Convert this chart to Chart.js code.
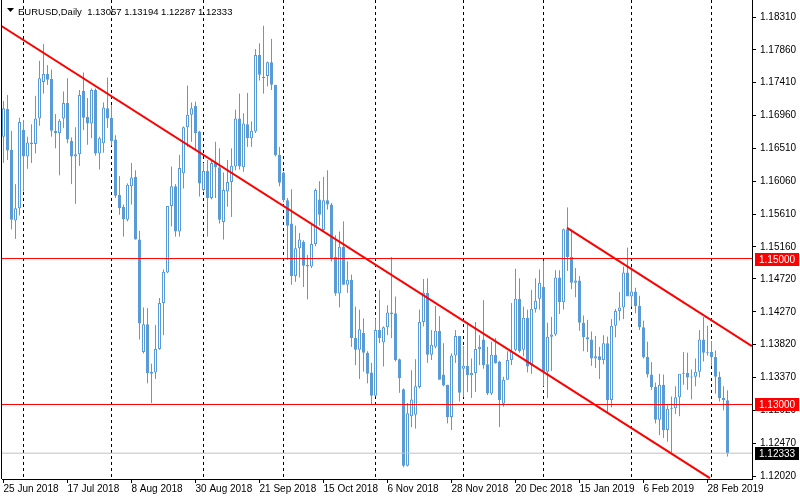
<!DOCTYPE html>
<html>
<head>
<meta charset="utf-8">
<title>EURUSD Daily</title>
<script src="https://cdn.jsdelivr.net/npm/chart.js@4.4.0/dist/chart.umd.min.js"></script>
<style>
  html, body { margin: 0; padding: 0; background: #fff; }
  #wrap { width: 800px; height: 500px; }
</style>
</head>
<body>
<div id="wrap"><canvas id="chart" width="800" height="500"></canvas></div>
<script>
// EURUSD daily bars, 25 Jun 2018 - 7 Mar 2019
const dates = [
  "2018.06.25", "2018.06.26", "2018.06.27", "2018.06.28", "2018.06.29",
  "2018.07.02", "2018.07.03", "2018.07.04", "2018.07.05", "2018.07.06",
  "2018.07.09", "2018.07.10", "2018.07.11", "2018.07.12", "2018.07.13",
  "2018.07.16", "2018.07.17", "2018.07.18", "2018.07.19", "2018.07.20",
  "2018.07.23", "2018.07.24", "2018.07.25", "2018.07.26", "2018.07.27",
  "2018.07.30", "2018.07.31", "2018.08.01", "2018.08.02", "2018.08.03",
  "2018.08.06", "2018.08.07", "2018.08.08", "2018.08.09", "2018.08.10",
  "2018.08.13", "2018.08.14", "2018.08.15", "2018.08.16", "2018.08.17",
  "2018.08.20", "2018.08.21", "2018.08.22", "2018.08.23", "2018.08.24",
  "2018.08.27", "2018.08.28", "2018.08.29", "2018.08.30", "2018.08.31",
  "2018.09.03", "2018.09.04", "2018.09.05", "2018.09.06", "2018.09.07",
  "2018.09.10", "2018.09.11", "2018.09.12", "2018.09.13", "2018.09.14",
  "2018.09.17", "2018.09.18", "2018.09.19", "2018.09.20", "2018.09.21",
  "2018.09.24", "2018.09.25", "2018.09.26", "2018.09.27", "2018.09.28",
  "2018.10.01", "2018.10.02", "2018.10.03", "2018.10.04", "2018.10.05",
  "2018.10.08", "2018.10.09", "2018.10.10", "2018.10.11", "2018.10.12",
  "2018.10.15", "2018.10.16", "2018.10.17", "2018.10.18", "2018.10.19",
  "2018.10.22", "2018.10.23", "2018.10.24", "2018.10.25", "2018.10.26",
  "2018.10.29", "2018.10.30", "2018.10.31", "2018.11.01", "2018.11.02",
  "2018.11.05", "2018.11.06", "2018.11.07", "2018.11.08", "2018.11.09",
  "2018.11.12", "2018.11.13", "2018.11.14", "2018.11.15", "2018.11.16",
  "2018.11.19", "2018.11.20", "2018.11.21", "2018.11.22", "2018.11.23",
  "2018.11.26", "2018.11.27", "2018.11.28", "2018.11.29", "2018.11.30",
  "2018.12.03", "2018.12.04", "2018.12.05", "2018.12.06", "2018.12.07",
  "2018.12.10", "2018.12.11", "2018.12.12", "2018.12.13", "2018.12.14",
  "2018.12.17", "2018.12.18", "2018.12.19", "2018.12.20", "2018.12.21",
  "2018.12.24", "2018.12.26", "2018.12.27", "2018.12.28", "2018.12.31",
  "2019.01.02", "2019.01.03", "2019.01.04", "2019.01.07", "2019.01.08",
  "2019.01.09", "2019.01.10", "2019.01.11", "2019.01.14", "2019.01.15",
  "2019.01.16", "2019.01.17", "2019.01.18", "2019.01.21", "2019.01.22",
  "2019.01.23", "2019.01.24", "2019.01.25", "2019.01.28", "2019.01.29",
  "2019.01.30", "2019.01.31", "2019.02.01", "2019.02.04", "2019.02.05",
  "2019.02.06", "2019.02.07", "2019.02.08", "2019.02.11", "2019.02.12",
  "2019.02.13", "2019.02.14", "2019.02.15", "2019.02.18", "2019.02.19",
  "2019.02.20", "2019.02.21", "2019.02.22", "2019.02.25", "2019.02.26",
  "2019.02.27", "2019.02.28", "2019.03.01", "2019.03.04", "2019.03.05",
  "2019.03.06", "2019.03.07",
]

const opens = [
  1.1667, 1.1705, 1.1649, 1.1552, 1.1569, 1.1676, 1.1640, 1.1659, 1.1657, 1.1692,
  1.1742, 1.1753, 1.1746, 1.1675, 1.1672, 1.1692, 1.1713, 1.1661, 1.1640, 1.1643,
  1.1730, 1.1694, 1.1685, 1.1731, 1.1644, 1.1658, 1.1706, 1.1693, 1.1663, 1.1587,
  1.1571, 1.1553, 1.1599, 1.1612, 1.1526, 1.1372, 1.1410, 1.1342, 1.1344, 1.1376,
  1.1439, 1.1481, 1.1572, 1.1599, 1.1537, 1.1617, 1.1680, 1.1697, 1.1709, 1.1674,
  1.1594, 1.1620, 1.1583, 1.1631, 1.1625, 1.1550, 1.1592, 1.1605, 1.1626, 1.1692,
  1.1625, 1.1684, 1.1665, 1.1674, 1.1779, 1.1747, 1.1750, 1.1769, 1.1738, 1.1642,
  1.1618, 1.1580, 1.1548, 1.1476, 1.1514, 1.1523, 1.1491, 1.1489, 1.1520, 1.1581,
  1.1539, 1.1580, 1.1574, 1.1502, 1.1452, 1.1516, 1.1464, 1.1471, 1.1391, 1.1375,
  1.1398, 1.1371, 1.1344, 1.1312, 1.1402, 1.1385, 1.1406, 1.1424, 1.1425, 1.1362,
  1.1321, 1.1216, 1.1284, 1.1286, 1.1324, 1.1413, 1.1453, 1.1368, 1.1379, 1.1401,
  1.1341, 1.1327, 1.1283, 1.1367, 1.1394, 1.1349, 1.1353, 1.1340, 1.1343, 1.1376,
  1.1389, 1.1355, 1.1315, 1.1368, 1.1359, 1.1301, 1.1334, 1.1361, 1.1375, 1.1445,
  1.1375, 1.1419, 1.1354, 1.1431, 1.1445, 1.1461, 1.1345, 1.1393, 1.1396, 1.1474,
  1.1440, 1.1540, 1.1502, 1.1467, 1.1470, 1.1412, 1.1392, 1.1389, 1.1363, 1.1366,
  1.1361, 1.1384, 1.1306, 1.1408, 1.1428, 1.1433, 1.1481, 1.1448, 1.1455, 1.1435,
  1.1406, 1.1365, 1.1341, 1.1324, 1.1279, 1.1327, 1.1265, 1.1294, 1.1295, 1.1310,
  1.1342, 1.1343, 1.1337, 1.1338, 1.1345, 1.1389, 1.1371, 1.1372, 1.1365, 1.1338,
  1.1309, 1.13057,
]

const highs = [
  1.1716, 1.1724, 1.1675, 1.1602, 1.1693, 1.1690, 1.1667, 1.1684, 1.1723, 1.1771,
  1.1794, 1.1765, 1.1759, 1.1698, 1.1691, 1.1729, 1.1747, 1.1666, 1.1680, 1.1731,
  1.1755, 1.1720, 1.1733, 1.1733, 1.1667, 1.1714, 1.1748, 1.1710, 1.1669, 1.1613,
  1.1574, 1.1603, 1.1631, 1.1621, 1.1538, 1.1433, 1.1432, 1.1356, 1.1409, 1.1446,
  1.1485, 1.1572, 1.1626, 1.1602, 1.1642, 1.1681, 1.1737, 1.1714, 1.1715, 1.1675,
  1.1631, 1.1635, 1.1635, 1.1660, 1.1651, 1.1618, 1.1635, 1.1651, 1.1704, 1.1726,
  1.1699, 1.1727, 1.1688, 1.1787, 1.1795, 1.1819, 1.1770, 1.1801, 1.1738, 1.1653,
  1.1619, 1.1583, 1.1595, 1.1545, 1.1535, 1.1525, 1.1505, 1.1546, 1.1596, 1.1606,
  1.1612, 1.1621, 1.1576, 1.1532, 1.1537, 1.1551, 1.1496, 1.1478, 1.1434, 1.1430,
  1.1418, 1.1373, 1.1357, 1.1418, 1.1457, 1.1407, 1.1436, 1.1502, 1.1448, 1.1363,
  1.1322, 1.1302, 1.1347, 1.1362, 1.1430, 1.1472, 1.1473, 1.1402, 1.1435, 1.1421,
  1.1384, 1.1327, 1.1370, 1.1402, 1.1394, 1.1380, 1.1413, 1.1363, 1.1413, 1.1395,
  1.1443, 1.1379, 1.1386, 1.1391, 1.1360, 1.1338, 1.1373, 1.1439, 1.1486, 1.1473,
  1.1434, 1.1430, 1.1457, 1.1473, 1.1485, 1.1497, 1.1412, 1.1420, 1.1484, 1.1484,
  1.1541, 1.1570, 1.1540, 1.1487, 1.1476, 1.1422, 1.1416, 1.1400, 1.1394, 1.1379,
  1.1395, 1.1393, 1.1417, 1.1431, 1.1454, 1.1489, 1.1515, 1.1488, 1.1460, 1.1449,
  1.1415, 1.1386, 1.1358, 1.1330, 1.1342, 1.1341, 1.1299, 1.1311, 1.1325, 1.1341,
  1.1372, 1.1371, 1.1348, 1.1363, 1.1402, 1.1420, 1.1408, 1.1387, 1.1374, 1.1345,
  1.1325, 1.13194,
]

const lows = [
  1.1631, 1.1635, 1.1540, 1.1527, 1.1559, 1.1592, 1.1623, 1.1631, 1.1644, 1.1682,
  1.1726, 1.1738, 1.1667, 1.1651, 1.1614, 1.1679, 1.1658, 1.1602, 1.1575, 1.1627,
  1.1676, 1.1656, 1.1665, 1.1641, 1.1622, 1.1645, 1.1679, 1.1655, 1.1583, 1.1560,
  1.1530, 1.1551, 1.1574, 1.1526, 1.1389, 1.1370, 1.1329, 1.1302, 1.1335, 1.1375,
  1.1395, 1.1480, 1.1544, 1.1530, 1.1530, 1.1596, 1.1653, 1.1660, 1.1649, 1.1585,
  1.1592, 1.1530, 1.1581, 1.1583, 1.1548, 1.1526, 1.1571, 1.1557, 1.1621, 1.1622,
  1.1619, 1.1653, 1.1653, 1.1672, 1.1744, 1.1726, 1.1736, 1.1731, 1.1640, 1.1599,
  1.1577, 1.1498, 1.1464, 1.1468, 1.1474, 1.1461, 1.1444, 1.1487, 1.1517, 1.1545,
  1.1537, 1.1567, 1.1496, 1.1449, 1.1433, 1.1464, 1.1453, 1.1379, 1.1354, 1.1335,
  1.1345, 1.1329, 1.1300, 1.1311, 1.1384, 1.1352, 1.1395, 1.1391, 1.1359, 1.1316,
  1.1214, 1.1215, 1.1269, 1.1267, 1.1322, 1.1407, 1.1357, 1.1361, 1.1377, 1.1334,
  1.1325, 1.1274, 1.1265, 1.1357, 1.1304, 1.1310, 1.1317, 1.1309, 1.1317, 1.1354,
  1.1349, 1.1313, 1.1313, 1.1356, 1.1269, 1.1297, 1.1334, 1.1354, 1.1373, 1.1371,
  1.1366, 1.1344, 1.1342, 1.1426, 1.1430, 1.1325, 1.1309, 1.1346, 1.1394, 1.1424,
  1.1430, 1.1483, 1.1458, 1.1447, 1.1401, 1.1373, 1.1372, 1.1353, 1.1350, 1.1335,
  1.1355, 1.1289, 1.1296, 1.1392, 1.1415, 1.1417, 1.1449, 1.1434, 1.1425, 1.1402,
  1.1363, 1.1337, 1.1320, 1.1274, 1.1258, 1.1254, 1.1249, 1.1234, 1.1287, 1.1284,
  1.1327, 1.1320, 1.1307, 1.1325, 1.1337, 1.1359, 1.1367, 1.1353, 1.1315, 1.1304,
  1.1292, 1.12287,
]

const closes = [
  1.1706, 1.1648, 1.1553, 1.1569, 1.1687, 1.1640, 1.1659, 1.1657, 1.1692, 1.1747,
  1.1753, 1.1745, 1.1675, 1.1672, 1.1689, 1.1713, 1.1663, 1.1640, 1.1643, 1.1724,
  1.1693, 1.1685, 1.1731, 1.1644, 1.1665, 1.1707, 1.1692, 1.1661, 1.1586, 1.1569,
  1.1554, 1.1601, 1.1611, 1.1526, 1.1411, 1.1410, 1.1343, 1.1345, 1.1376, 1.1439,
  1.1482, 1.1572, 1.1599, 1.1537, 1.1624, 1.1680, 1.1697, 1.1706, 1.1672, 1.1603,
  1.1620, 1.1583, 1.1631, 1.1625, 1.1553, 1.1594, 1.1605, 1.1627, 1.1692, 1.1626,
  1.1685, 1.1665, 1.1675, 1.1779, 1.1752, 1.1749, 1.1769, 1.1738, 1.1642, 1.1604,
  1.1580, 1.1545, 1.1476, 1.1514, 1.1526, 1.1490, 1.1489, 1.1520, 1.1594, 1.1560,
  1.1580, 1.1574, 1.1500, 1.1452, 1.1516, 1.1464, 1.1471, 1.1391, 1.1375, 1.1403,
  1.1371, 1.1342, 1.1312, 1.1402, 1.1391, 1.1406, 1.1426, 1.1426, 1.1361, 1.1336,
  1.1216, 1.1288, 1.1307, 1.1325, 1.1413, 1.1453, 1.1368, 1.1382, 1.1401, 1.1334,
  1.1326, 1.1283, 1.1367, 1.1394, 1.1316, 1.1353, 1.1340, 1.1343, 1.1376, 1.1379,
  1.1354, 1.1315, 1.1368, 1.1357, 1.1306, 1.1334, 1.1361, 1.1373, 1.1445, 1.1373,
  1.1419, 1.1352, 1.1431, 1.1442, 1.1467, 1.1345, 1.1393, 1.1396, 1.1474, 1.1440,
  1.1540, 1.1502, 1.1467, 1.1470, 1.1412, 1.1392, 1.1389, 1.1363, 1.1366, 1.1361,
  1.1384, 1.1306, 1.1408, 1.1428, 1.1433, 1.1481, 1.1448, 1.1455, 1.1435, 1.1406,
  1.1365, 1.1341, 1.1324, 1.1279, 1.1327, 1.1265, 1.1294, 1.1295, 1.1310, 1.1342,
  1.1343, 1.1337, 1.1338, 1.1345, 1.1389, 1.1371, 1.1372, 1.1365, 1.1338, 1.1309,
  1.1306, 1.12333,
]

// Axis ticks (bar index -> label) and price scale labels
const xTickIdx = [0, 16, 32, 48, 64, 80, 96, 112, 128, 144, 160, 176]
const xTickLabels = [
  "25 Jun 2018", "17 Jul 2018", "8 Aug 2018", "30 Aug 2018", "21 Sep 2018", "15 Oct 2018",
  "6 Nov 2018", "28 Nov 2018", "20 Dec 2018", "15 Jan 2019", "6 Feb 2019", "28 Feb 2019",
]
const monthStartIdx = [5, 27, 50, 70, 93, 115, 135, 157, 177]
const yTicks = [
  1.1831, 1.1786, 1.1741, 1.1696, 1.1651, 1.1606, 1.1561, 1.1516,
  1.1472, 1.1427, 1.1382, 1.1337, 1.1292, 1.1247, 1.1202,
]

// Trend lines (bar index, price) and horizontal levels
const trendX1 = [-0.9, 176.6]
const trendY1 = [1.182, 1.1199]
const trendX2 = [140.9, 187.1]
const trendY2 = [1.1542, 1.138]
const levels = [1.15, 1.13]
const bidLevel = 1.12333

const BLUE = "#5b9bd5"
const RED = "#ff0000"
const FONT = { family: "'Liberation Sans', Arial, sans-serif", size: 10 }
const X_MIN = -0.375
const X_MAX = 187.125

const idx = closes.map((c, i) => i)
const bull = closes.map((c, i) => c >= opens[i])

function segment(xs, ys) {
  return xs.map((x, i) => ({ x: x, y: ys[i] }))
}

function lineSet(data, color, width) {
  return {
    type: "line",
    data: data,
    borderColor: color,
    borderWidth: width,
    pointRadius: 0,
    tension: 0,
    fill: false,
  }
}

// Month grid, frame, price boxes and header
const mt4Decor = {
  id: "mt4Decor",
  beforeDatasetsDraw(chart) {
    const { ctx, chartArea: a, scales } = chart
    ctx.save()
    ctx.strokeStyle = "#000"
    ctx.lineWidth = 1
    ctx.setLineDash([3, 3])
    monthStartIdx.forEach((k) => {
      const px = scales.x.getPixelForValue(k)
      ctx.beginPath()
      ctx.moveTo(px, a.top)
      ctx.lineTo(px, a.bottom)
      ctx.stroke()
    })
    ctx.setLineDash([])
    ctx.beginPath()
    ctx.moveTo(a.left - 0.5, a.top)
    ctx.lineTo(a.left - 0.5, a.bottom)
    ctx.stroke()
    ctx.restore()
  },
  afterDraw(chart) {
    const { ctx, chartArea: a, scales } = chart
    ctx.save()
    ctx.font = "10px " + FONT.family
    ctx.textBaseline = "middle"
    const boxes = [[levels[0], RED], [levels[1], RED], [bidLevel, "#000"]]
    boxes.forEach(([v, bg]) => {
      const py = Math.round(scales.y.getPixelForValue(v))
      ctx.fillStyle = bg
      ctx.fillRect(a.right + 3, py - 6, 44, 13)
      ctx.fillStyle = "#fff"
      ctx.fillText(v.toFixed(5), a.right + 7, py + 1)
    })

    // header: symbol and last bar OHLC
    const n = closes.length - 1
    ctx.fillStyle = "#000"
    ctx.beginPath()
    ctx.moveTo(7, 8)
    ctx.lineTo(14, 8)
    ctx.lineTo(10.5, 12)
    ctx.closePath()
    ctx.fill()
    ctx.textBaseline = "alphabetic"
    ctx.font = "9.5px " + FONT.family
    const head = "EURUSD,Daily  " + [opens[n], highs[n], lows[n], closes[n]].map((v) => v.toFixed(5)).join(" ")
    ctx.fillText(head, 18, 15)
    ctx.restore()
  },
}

new Chart(document.getElementById("chart"), {
  type: "bar",
  data: {
    datasets: [
      lineSet(segment(trendX1, trendY1), RED, 2),
      lineSet(segment(trendX2, trendY2), RED, 2),
      lineSet(segment([X_MIN, X_MAX], [levels[0], levels[0]]), RED, 1),
      lineSet(segment([X_MIN, X_MAX], [levels[1], levels[1]]), RED, 1),
      lineSet(segment([X_MIN, X_MAX], [bidLevel, bidLevel]), "#c0c0c0", 1),
      {
        // candle bodies
        data: idx.map((i) => ({ x: i, y: [opens[i], closes[i]] })),
        backgroundColor: bull.map((b) => (b ? "#ffffff" : BLUE)),
        borderColor: BLUE,
        borderWidth: 1,
        borderSkipped: false,
        barThickness: 3,
        minBarLength: 1,
        grouped: false,
        inflateAmount: 0.0001,
      },
      {
        // wicks
        data: idx.map((i) => ({ x: i, y: [lows[i], highs[i]] })),
        backgroundColor: BLUE,
        borderWidth: 0,
        barThickness: 1,
        grouped: false,
        inflateAmount: 0.0001,
      },
    ],
  },
  options: {
    responsive: false,
    devicePixelRatio: 1,
    animation: false,
    layout: { padding: { left: 2, top: 0, right: 0, bottom: 0 } },
    plugins: { legend: { display: false }, tooltip: { enabled: false } },
    scales: {
      x: {
        type: "linear",
        offset: false,
        min: X_MIN,
        max: X_MAX,
        afterFit: (s) => {
          s.height = 21
          s.paddingLeft = 0
          s.paddingRight = 0
        },
        afterBuildTicks: (s) => { s.ticks = xTickIdx.map((v) => ({ value: v })) },
        grid: { offset: false, drawOnChartArea: false, drawTicks: true, tickLength: 4, color: "#000" },
        border: { display: true, color: "#000" },
        ticks: {
          align: "start",
          autoSkip: false,
          maxRotation: 0,
          padding: 0,
          color: "#000",
          font: FONT,
          callback: (v) => xTickLabels[xTickIdx.indexOf(v)],
        },
      },
      y: {
        type: "linear",
        position: "right",
        min: 1.11979,
        max: 1.18543,
        afterFit: (s) => {
          s.width = 48
          s.paddingTop = 0
          s.paddingBottom = 0
        },
        afterBuildTicks: (s) => { s.ticks = yTicks.map((v) => ({ value: v })) },
        grid: { drawOnChartArea: false, drawTicks: true, tickLength: 4, color: "#000" },
        border: { display: true, color: "#000" },
        ticks: {
          padding: 4,
          color: "#000",
          font: FONT,
          callback: (v) => v.toFixed(5),
        },
      },
    },
  },
  plugins: [mt4Decor],
})
</script>
</body>
</html>
